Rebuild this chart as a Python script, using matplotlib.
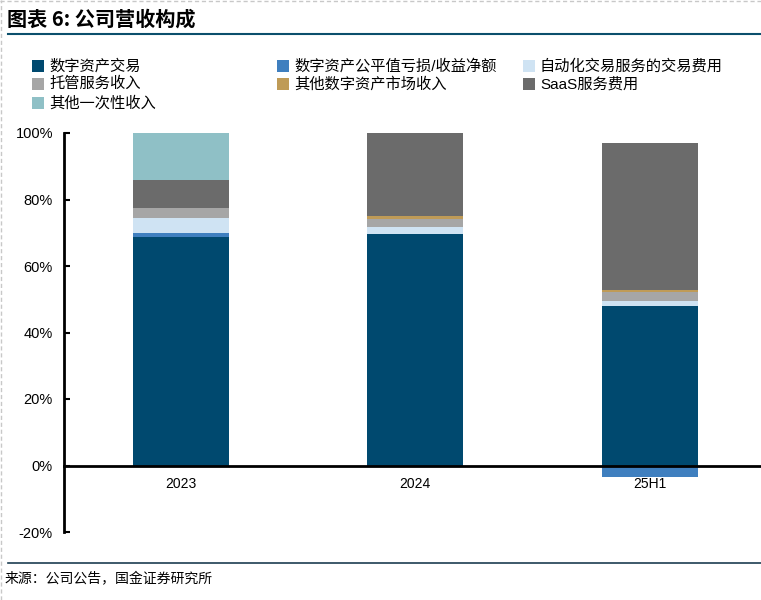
import matplotlib
matplotlib.use("Agg")
import matplotlib.pyplot as plt
from matplotlib.patches import Rectangle
from matplotlib.lines import Line2D
import numpy as np

plt.rcParams['font.family'] = ['Liberation Sans', 'Noto Sans CJK SC', 'DejaVu Sans']

# data (% of revenue)
years = ["2023", "2024", "25H1"]
names = ["数字资产交易", "数字资产公平值亏损/收益净额", "自动化交易服务的交易费用",
         "托管服务收入", "其他数字资产市场收入", "SaaS服务费用", "其他一次性收入"]
trade = [68.8, 69.6, 47.9]
fairval = [1.2, -0.4, -3.4]
autofee = [4.5, 2.0, 1.5]
custody = [2.9, 2.5, 2.8]
othermkt = [0.0, 0.9, 0.5]
saas = [8.4, 25.0, 44.3]
oneoff = [14.2, 0.0, 0.0]
colors = ["#00496f", "#3f7fbf", "#cfe3f3", "#a6a6a6", "#bf9b57", "#6b6b6b", "#8fc0c6"]

series = [trade, fairval, autofee, custody, othermkt, saas, oneoff]

fig = plt.figure(figsize=(7.61, 6.0), dpi=100)
ax = fig.add_axes([64/761, 68/600, 1 - 64/761, 399/600])

x = np.arange(len(years))
pos = np.zeros(len(years))
neg = np.zeros(len(years))
for vals, c in zip(series, colors):
    v = np.array(vals)
    bottom = np.where(v >= 0, pos, neg)
    ax.bar(x, v, 0.41, bottom=bottom, color=c, linewidth=0)
    pos = pos + np.where(v >= 0, v, 0)
    neg = neg + np.where(v < 0, v, 0)

ax.set_xlim(-0.5, 2.476)
ax.set_ylim(-20, 100)
ax.set_yticks(range(-20, 101, 20))
ax.set_yticklabels([f"{t}%" for t in range(-20, 101, 20)], fontsize=10.5)
ax.set_xticks(x)
ax.set_xticklabels(years, fontsize=10.5)
ax.spines['top'].set_visible(False)
ax.spines['right'].set_visible(False)
ax.spines['left'].set_linewidth(2)
ax.spines['bottom'].set_position(('data', 0))
ax.spines['bottom'].set_linewidth(2)
ax.spines['bottom'].set_zorder(5)
ax.tick_params(axis='y', direction='in', length=4, width=1.5, pad=8)
ax.tick_params(axis='x', length=0, pad=8)

# title and rules
fig.text(7/761, 1 - 19/600, "图表 6: 公司营收构成", fontsize=14.5, fontweight='bold',
         fontstyle='italic', va='center', ha='left',
         family=['Noto Sans CJK SC', 'DejaVu Sans'])
fig.add_artist(Line2D([8/761, 1], [1 - 34/600] * 2, color="#0b4f6c", lw=1.5))
fig.add_artist(Line2D([8/761, 1], [1 - 563/600] * 2, color="#1c3d52", lw=1.2))
fig.text(5/761, 1 - 579/600, "来源：公司公告，国金证券研究所", fontsize=10,
         va='center', ha='left', family=['Noto Sans CJK SC', 'DejaVu Sans'])
fig.add_artist(Line2D([1/761, 1/761], [0, 1], color="#c8c8c8", lw=1, ls=(0, (3, 2))))
fig.add_artist(Line2D([0, 1], [1 - 1/600] * 2, color="#c8c8c8", lw=1, ls=(0, (3, 2))))

# legend, three fixed-width columns
col_x = [32, 277, 523]
row_y = [66, 84, 103]
slots = [(0, 0), (1, 0), (2, 0), (0, 1), (1, 1), (2, 1), (0, 2)]
for name, c, (ci, ri) in zip(names, colors, slots):
    px, py = col_x[ci], row_y[ri]
    fig.add_artist(Rectangle((px/761, 1 - (py + 6)/600), 12/761, 12/600,
                             color=c, transform=fig.transFigure, lw=0))
    fig.text((px + 17)/761, 1 - py/600, name, fontsize=11, va='center', ha='left',
             family=['Liberation Sans', 'Noto Sans CJK SC'])

fig.savefig("out.png", dpi=100)
